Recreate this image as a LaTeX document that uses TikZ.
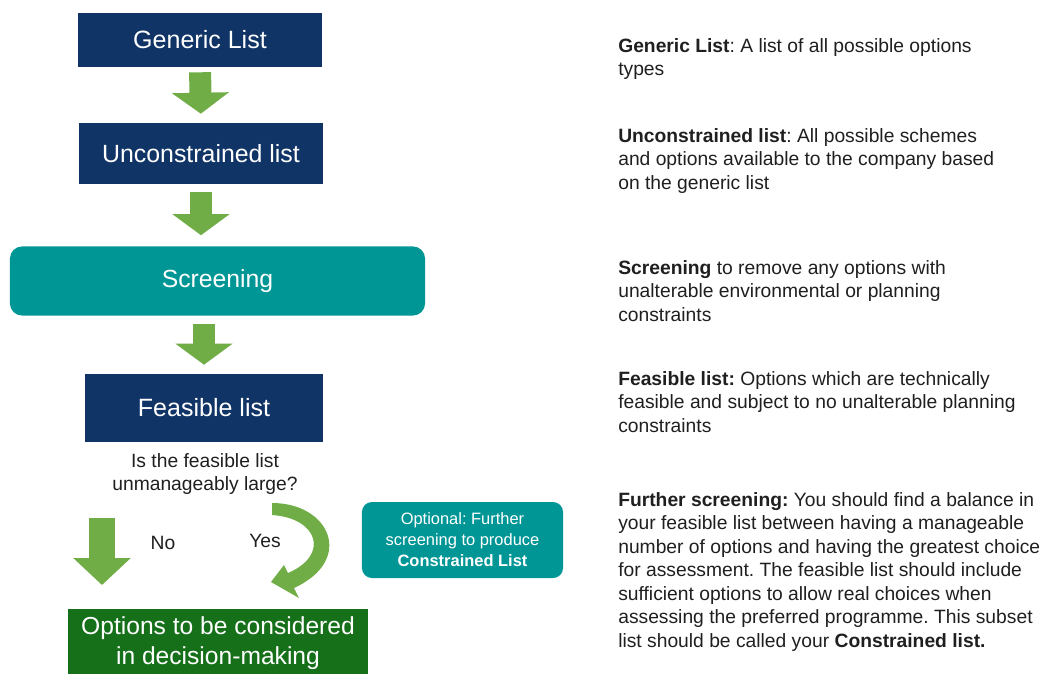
\documentclass[tikz,border=0pt]{standalone}
\usepackage{fontspec}
\setmainfont{Liberation Sans}
\frenchspacing
\usetikzlibrary{arrows.meta}
\definecolor{listblue}{RGB}{16,52,102}
\definecolor{screenteal}{RGB}{0,150,150}
\definecolor{arrowgreen}{RGB}{112,173,71}
\definecolor{finalgreen}{RGB}{22,112,26}
\tikzset{box/.style={fill=listblue, text=white, minimum width=6.1cm, minimum height=1.35cm, font=\fontsize{17.8}{21}\selectfont},
         rbox/.style={fill=screenteal, text=white, rounded corners=0.3cm, align=center},
         endbox/.style={fill=finalgreen, text=white, align=center, minimum width=7.5cm, minimum height=1.7cm, font=\fontsize{17.5}{21.3}\selectfont},
         note/.style={anchor=north west, align=left, inner sep=0pt, text=black!88, font=\fontsize{13.7}{16.7}\selectfont},
         plain/.style={text=black!88, align=center, font=\fontsize{13.7}{16.4}\selectfont},
         blockarrow/.style={draw=arrowgreen, line width=0.55cm, -{Triangle[width=1.4cm,length=0.525cm]}}}

\begin{document}
\begin{tikzpicture}[x=0.025cm, y=-0.025cm]
                    \clip (0,0) rectangle (1052,673);
                    \node[box] (gen) at (200,40) {Generic List};
                    \node[box, minimum height=1.525cm, font=\fontsize{17.7}{21}\selectfont] (unc) at (201,153.5) {Unconstrained list};
                    \node[rbox, minimum width=10.375cm, minimum height=1.725cm, font=\fontsize{17.6}{21}\selectfont] (scr) at (217.5,281) {Screening};
                    \node[box, minimum width=5.95cm, minimum height=1.7cm] (fea) at (204,408) {Feasible list};
                    \node[plain] (que) at (205,474) {Is the feasible list\\unmanageably large?};
                    \node[rbox, minimum width=5.025cm, minimum height=1.9cm, rounded corners=0.25cm, font=\fontsize{11.7}{15}\selectfont] (opt) at (462.5,540)
                        {Optional: Further\\screening to produce\\\textbf{Constrained List}};
                    \node[endbox] (fin) at (218,643) {Options to be considered\\in decision-making};
                    \node[plain] (no) at (163,543) {No};
                    \node[plain] (yes) at (265,541) {Yes};

                    \draw[blockarrow, shorten <=0.125cm, shorten >=0.225cm] (gen.south) -- (unc.north);
                    \draw[blockarrow, shorten <=0.2cm, shorten >=0.275cm] (unc.south) -- (unc.south |- scr.north);
                    \draw[blockarrow, shorten <=0.2cm, shorten >=0.225cm] (fea.north |- scr.south) -- (fea.north);
                    \coordinate (nobeg) at (102,518);
                    \coordinate (noend) at (102,585);
                    \draw[blockarrow, line width=0.625cm, -{Triangle[width=1.4cm,length=0.675cm]}] (nobeg) -- (noend);
                    \fill[arrowgreen] (272,503) .. controls (330,503) and (355,560) .. (294,588) -- (299,598) -- (271,582) -- (284,565)
                        -- (288,573) .. controls (330,555) and (318,518) .. (272,515) -- cycle;

                    \node[note] (ngen) at (618,38) {\textbf{Generic List}: A list of all possible options\\types};
                    \node[note] (nunc) at (618,128) {\textbf{Unconstrained list}: All possible schemes\\and options available to the company based\\on the generic list};
                    \node[note] (nscr) at (618,260) {\textbf{Screening} to remove any options with\\unalterable environmental or planning\\constraints};
                    \node[note] (nfea) at (618,371) {\textbf{Feasible list:} Options which are technically\\feasible and subject to no unalterable planning\\constraints};
                    \node[note] (nfur) at (618,492) {\textbf{Further screening:} You should find a balance in\\your feasible list between having a manageable\\number of options and having the greatest choice\\for assessment. The feasible list should include\\sufficient options to allow real choices when\\assessing the preferred programme. This subset\\list should be called your \textbf{Constrained list.}};
                \end{tikzpicture}
\end{document}
